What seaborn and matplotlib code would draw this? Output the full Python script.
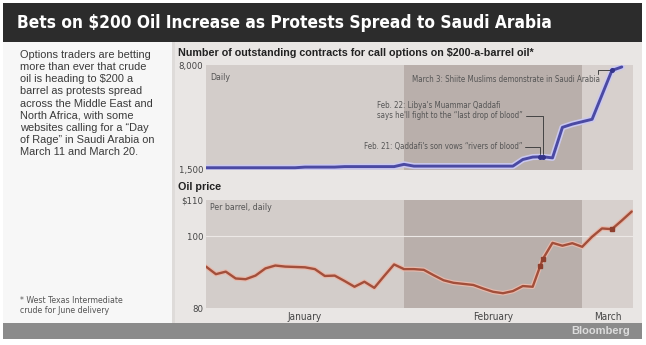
import numpy as np
import pandas as pd
import matplotlib
matplotlib.use("Agg")
import matplotlib.pyplot as plt
import seaborn as sns
from matplotlib import font_manager as fm
from matplotlib.patches import Rectangle

# ---------------- data ----------------
jan_days = [3, 4, 5, 6, 7, 10, 11, 12, 13, 14, 18, 19, 20, 21, 24, 25, 26, 27, 28, 31]
feb_days = [1, 2, 3, 4, 7, 8, 9, 10, 11, 14, 15, 16, 17, 18, 22, 23, 24, 25, 28]
mar_days = [1, 2, 3, 4, 7]
trade_dates = ([f"2011-01-{d:02d}" for d in jan_days] +
               [f"2011-02-{d:02d}" for d in feb_days] +
               [f"2011-03-{d:02d}" for d in mar_days])

oil_price = [91.5, 89.4, 90.1, 88.2, 88.0, 89.0, 91.0, 91.8, 91.5, 91.4,
             91.3, 90.8, 88.9, 89.0, 87.5, 85.9, 87.3, 85.6, 88.9, 92.1,
             90.8, 90.8, 90.6, 89.1, 87.7, 87.0, 86.7, 86.4, 85.4, 84.5,
             84.1, 84.7, 86.1, 85.9, 93.5, 98.1, 97.3, 98.0, 97.0,
             99.8, 102.1, 101.9, 104.3, 106.8]

call_contracts = [1640] * 10 + [1680] * 4 + [1710] * 6 + [1850] + [1740] * 11 + \
                 [2150, 2300, 2320, 2250, 4140, 4340, 4490, 4640, 6150, 7660, 7880]

month_names = ["January", "February", "March"]
event_dates = ["2011-02-21", "2011-02-22", "2011-03-03"]

title = "Bets on $200 Oil Increase as Protests Spread to Saudi Arabia"
intro = ("Options traders are betting\nmore than ever that crude\noil is heading to $200 a\n"
         "barrel as protests spread\nacross the Middle East and\nNorth Africa, with some\n"
         "websites calling for a \u201cDay\nof Rage\u201d in Saudi Arabia on\nMarch 11 and March 20.")
footnote = "* West Texas Intermediate\ncrude for June delivery"
top_title = "Number of outstanding contracts for call options on $200-a-barrel oil*"
bot_title = "Oil price"

# ---------------- frames ----------------
dates = pd.to_datetime(trade_dates)
oil_df = pd.DataFrame({"date": dates, "price": oil_price})
oil_df["pos"] = np.arange(len(oil_df))
opt_df = pd.DataFrame({"date": dates[:len(call_contracts)], "contracts": call_contracts})
opt_df["pos"] = np.arange(len(opt_df))


def date_pos(ds):
    """position on trading-day axis, interpolating for non-trading days"""
    t = pd.Timestamp(ds).value
    return float(np.interp(t, dates.astype("int64"), np.arange(len(dates))))


# ---------------- fonts ----------------
names = {f.name for f in fm.fontManager.ttflist}
if "Liberation Sans Narrow" in names:
    COND = dict(family="Liberation Sans Narrow")
else:
    COND = dict(family="DejaVu Sans", fontstretch="condensed")
BODY = "Liberation Sans" if "Liberation Sans" in names else "DejaVu Sans"

sns.set_theme(style="white")
plt.rcParams["font.family"] = [BODY, "DejaVu Sans"]

W, H = 646, 345
fig = plt.figure(figsize=(W / 100, H / 100), dpi=100)
fig.patch.set_facecolor("white")


def fx(x):
    return x / W


def fy(y):
    return 1 - y / H


def frect(x0, y0, x1, y1, color):
    fig.patches.append(Rectangle((fx(x0), fy(y1)), fx(x1) - fx(x0), fy(y0) - fy(y1),
                                 transform=fig.transFigure, color=color, zorder=-10, lw=0))


# background panels
frect(3, 3, 642, 42, "#2c2c2c")
frect(3, 42, 172, 323, "#f7f7f7")
frect(172, 42, 642, 323, "#e9e6e4")
frect(172, 42, 175, 323, "#dedbd9")
frect(3, 323, 642, 339, "#8b8b8b")


def fit(t, target_px, max_size):
    fig.canvas.draw()
    w = t.get_window_extent().width
    s = t.get_fontsize() * target_px / w
    t.set_fontsize(min(s, max_size))


tt = fig.text(fx(17), fy(23), title, color="white", fontweight="bold", fontsize=16,
              va="center", ha="left", **COND)
fit(tt, 536, 17)

fig.text(fx(20), fy(50), intro, color="#3a3a3a", fontsize=7.9, va="top", ha="left",
         linespacing=1.27, family=BODY)
fig.text(fx(20), fy(296), footnote, color="#555555", fontsize=6.3, va="top", ha="left",
         linespacing=1.2, **COND)

t1 = fig.text(fx(178), fy(53), top_title, color="#222222", fontweight="bold", fontsize=7.6,
              va="center", ha="left", family=BODY)
fit(t1, 353, 8.5)
fig.text(fx(178), fy(187), bot_title, color="#222222", fontweight="bold",
         fontsize=t1.get_fontsize(), va="center", ha="left", family=BODY)

fig.text(fx(630), fy(331), "Bloomberg", color="#dcdcdc", fontweight="bold", fontsize=8,
         va="center", ha="right", family=BODY)

# ---------------- axes ----------------
L, R = 206, 633
ax1 = fig.add_axes([fx(L), fy(170), fx(R) - fx(L), fy(65) - fy(170)])
ax2 = fig.add_axes([fx(L), fy(308), fx(R) - fx(L), fy(200) - fy(308)])

n = len(oil_df)
step = (631.7 - L) / (n - 1)          # pixels per trading day
xmax = (R - L) / step
months = oil_df["date"].dt.month.values
feb_first = int(np.argmax(months == 2))
feb_last = int(len(months) - 1 - np.argmax(months[::-1] == 2))
spans = [(0, feb_first, "#d3cdca"), (feb_first, feb_last, "#b9afab"), (feb_last, xmax, "#d7d0cd")]
centers = [(a + b) / 2 for a, b, _ in spans]


def px2pos(x):
    return (x - L) / step


for ax in (ax1, ax2):
    ax.set_zorder(5)
    ax.set_facecolor("#e9e6e4")
    for a, b, c in spans:
        ax.axvspan(a, b, color=c, lw=0, zorder=0)
    ax.set_xlim(0, xmax)
    for s in ax.spines.values():
        s.set_visible(False)
    ax.tick_params(length=0, pad=2, labelsize=6.8, colors="#444444")
    ax.grid(False)

# top chart
sns.lineplot(data=opt_df, x="pos", y="contracts", ax=ax1, color="#cbc9f0", lw=4.4, zorder=2)
sns.lineplot(data=opt_df, x="pos", y="contracts", ax=ax1, color="#4b4aa3", lw=2.1, zorder=3)
ax1.set_ylim(1500, 8000)
ax1.set_yticks([1500, 8000])
ax1.set_yticklabels(["1,500", "8,000"], **COND)
ax1.set_xticks([])
ax1.set_xlabel("")
ax1.set_ylabel("")

ev = [date_pos(d) for d in event_dates]
ev_top = [np.interp(p, opt_df["pos"], opt_df["contracts"]) for p in ev]
ax1.plot(ev, ev_top, "o", color="#34338a", ms=2.6, zorder=4)

ann = dict(color="#555555", fontsize=5.7, **COND)
ax1.text(0.4, 7500, "Daily", va="top", ha="left", color="#555555", fontsize=6.3, **COND)
ax1.text(px2pos(506), 7130, "March 3: Shiite Muslims demonstrate in Saudi Arabia", va="center",
         ha="center", **ann)
ax1.plot([px2pos(598), px2pos(598), ev[2]], [7420, 7690, 7690], color="#444444", lw=0.7, zorder=3)
ax1.text(px2pos(523), 5200, "Feb. 22: Libya's Muammar Qaddafi\nsays he'll fight to the \u201clast drop of blood\u201d",
         va="center", ha="right", multialignment="left", linespacing=1.1, **ann)
ax1.plot([px2pos(526), ev[1], ev[1]], [4840, 4840, 2480], color="#444444", lw=0.7, zorder=3)
ax1.text(px2pos(522), 2950, "Feb. 21: Qaddafi's son vows \u201crivers of blood\u201d", va="center",
         ha="right", **ann)
ax1.plot([px2pos(525), ev[0], ev[0]], [2940, 2940, 2480], color="#444444", lw=0.7, zorder=3)

# bottom chart
ax2.axhline(100, color="#ece8e6", lw=0.8, zorder=1)
sns.lineplot(data=oil_df, x="pos", y="price", ax=ax2, color="#e8b9ab", lw=3.4, zorder=2)
sns.lineplot(data=oil_df, x="pos", y="price", ax=ax2, color="#a24f3b", lw=1.7, zorder=3)
ev_bot = [np.interp(p, oil_df["pos"], oil_df["price"]) for p in ev]
ax2.plot(ev, ev_bot, "s", color="#8e3f2e", ms=2.3, zorder=4)
ax2.set_ylim(80, 110)
ax2.set_yticks([80, 100, 110])
ax2.set_yticklabels(["80", "100", "$110"], **COND)
ax2.set_xticks(centers)
ax2.set_xticklabels(month_names, **COND)
ax2.tick_params(axis="x", pad=3, labelsize=7.2)
ax2.set_xlabel("")
ax2.set_ylabel("")
ax2.text(0.4, 109.2, "Per barrel, daily", va="top", ha="left", color="#555555", fontsize=6.3, **COND)

fig.savefig("out.png", dpi=100, facecolor=fig.get_facecolor())
